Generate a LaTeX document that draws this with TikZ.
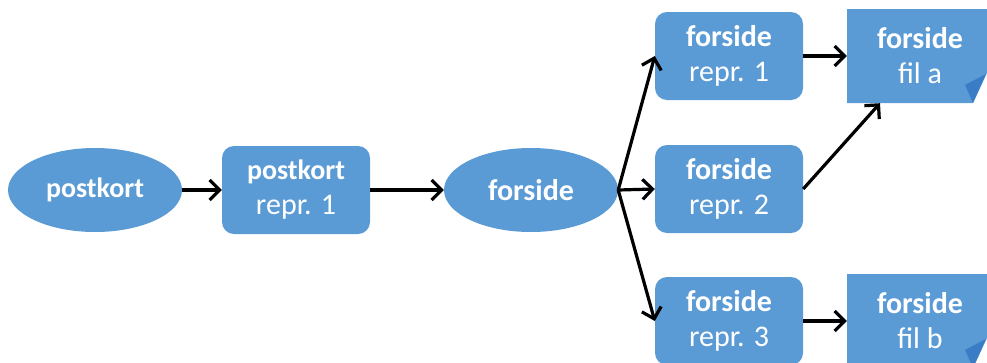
\documentclass[tikz,border=0pt]{standalone}
\usepackage{fontspec}
\setmainfont{Carlito}
\usetikzlibrary{arrows.meta,shapes.geometric}
\definecolor{boxblue}{HTML}{5B9BD5}
\definecolor{flapblue}{HTML}{3A7DC6}

\begin{document}
\begin{tikzpicture}[x=1pt,y=-1pt,
  every node/.style={text=white,font=\fontsize{30}{35}\selectfont,align=center,inner sep=0pt},
  small/.style={font=\fontsize{28}{35}\selectfont},
  oval/.style={ellipse,fill=boxblue,minimum width=174pt,minimum height=84pt},
  repbox/.style={rectangle,rounded corners=12pt,fill=boxblue,minimum width=148pt,minimum height=88pt},
  filebox/.style={rectangle,minimum width=146pt,minimum height=94pt,
    path picture={
      \fill[boxblue] (path picture bounding box.north west)
        -- (path picture bounding box.north east)
        -- ([yshift=43pt]path picture bounding box.south east)
        -- ([xshift=-20pt]path picture bounding box.south east)
        -- (path picture bounding box.south west) -- cycle;
      \fill[flapblue] ([xshift=-20pt]path picture bounding box.south east)
        -- ([shift={(-28pt,18pt)}]path picture bounding box.south east)
        -- ([shift={(-7pt,29pt)}]path picture bounding box.south east) -- cycle;
    }},
  link/.style={draw=black,line width=3.2pt,-{Straight Barb[length=10pt,width=20pt]}}
]
\useasboundingbox (0,0) rectangle (987,362);

% process chain
\node[oval,small] (e1) at (95,190) {\textbf{postkort}};
\node[repbox] (b1) at (296,190) {\fontsize{28}{35}\selectfont\textbf{postkort}\\repr. 1};
\node[oval] (e2) at (531,190) {\textbf{forside}};

% representations of the front page
\node[repbox] (r1) at (729,56) {\textbf{forside}\\repr. 1};
\node[repbox] (r2) at (729,189) {\textbf{forside}\\repr. 2};
\node[repbox] (r3) at (729,321) {\textbf{forside}\\repr. 3};

% resulting files
\node[filebox] (fa) at (920,56) {\textbf{forside}\\fil a};
\node[filebox] (fb) at (920,321) {\textbf{forside}\\fil b};

% connectors
\draw[link] (e1.east) -- (b1.west);
\draw[link] (b1.east) -- (e2.west);
\draw[link] (e2.east) -- (r1.west);
\draw[link] (e2.east) -- (r2.west);
\draw[link] (e2.east) -- (r3.west);
\draw[link] (r1.east) -- (fa.west);
\draw[link] (r2.east) -- ([xshift=-40pt]fa.south);
\draw[link] (r3.east) -- (fb.west);
\end{tikzpicture}
\end{document}
